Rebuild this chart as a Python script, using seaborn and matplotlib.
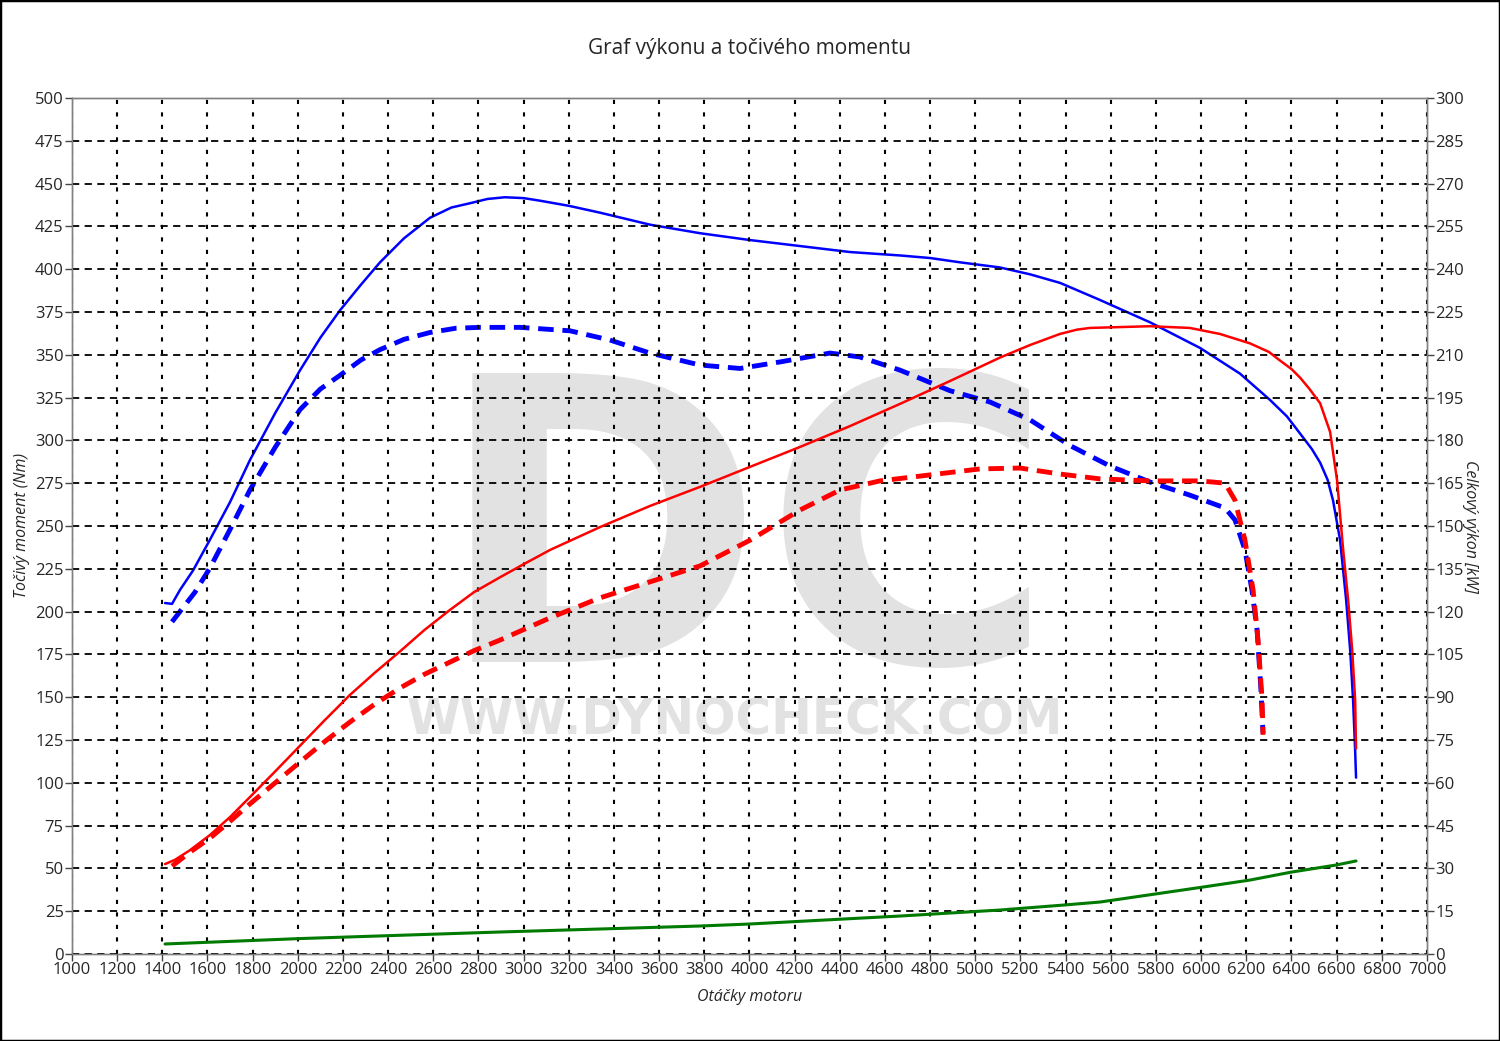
import matplotlib
matplotlib.use("Agg")
import matplotlib.pyplot as plt
import seaborn as sns
from matplotlib.patches import Rectangle

# tuned torque (Nm) - blue solid
rpm_tq_tuned = [1412, 1443, 1478, 1536, 1611, 1700, 1788, 1900, 2010, 2100, 2187, 2280, 2364,
                2470, 2585, 2680, 2762, 2840, 2917, 3000, 3072, 3200, 3338, 3559, 3781, 4002,
                4224, 4445, 4667, 4800, 4932, 5109, 5242, 5375, 5552, 5773, 5995, 6172, 6305,
                6380, 6438, 6490, 6527, 6560, 6584, 6615, 6642, 6660, 6673, 6682, 6686]
tq_tuned = [205, 204.5, 212.6, 224, 242, 264, 288.5, 316, 341, 360, 376, 391, 404,
            418, 430, 436, 438.5, 441, 442, 441.5, 440, 437, 433, 426, 421, 417,
            413.5, 410, 408, 406.5, 404, 401, 397, 392, 382, 369, 354, 339, 323.6,
            314, 304, 295, 287, 277, 265, 242, 207, 177.6, 148, 119, 103]

# stock torque (Nm) - blue dashed
rpm_tq_stock = [1443, 1478, 1545, 1611, 1700, 1788, 1900, 2010, 2100, 2187, 2280, 2364, 2470,
                2585, 2700, 2807, 2984, 3205, 3382, 3559, 3781, 3958, 4135, 4357, 4489, 4667,
                4888, 5065, 5242, 5419, 5596, 5773, 5950, 6106, 6150, 6194, 6225, 6248, 6265,
                6274]
tq_stock = [194, 200, 211.4, 225.5, 248, 271, 296, 318, 330, 338, 347, 353, 359,
            363, 365.5, 366, 366, 364, 358.6, 351, 344, 342, 345.8, 351, 348.7, 341,
            329, 322.4, 312, 297, 285, 275.7, 268, 260.5, 253.5, 236, 212.6, 189, 154,
            129]

# tuned power (kW) - red solid
rpm_pw_tuned = [1412, 1456, 1523, 1611, 1700, 1788, 1900, 2010, 2120, 2231, 2340, 2452,
                2560, 2674, 2780, 2895, 3000, 3117, 3338, 3559, 3781, 4002, 4224, 4445,
                4667, 4888, 5109, 5242, 5375, 5450, 5507, 5773, 5950, 6083, 6216, 6300,
                6349, 6400, 6438, 6480, 6527, 6571, 6602, 6629, 6651, 6669, 6682, 6686]
pw_tuned = [31.5, 33, 36.4, 41.7, 48, 55, 64, 73, 82, 90.8, 98.5, 106,
            113.5, 120.6, 126.8, 132, 136.6, 141.6, 149.6, 157, 163.7, 170.7, 177.7, 185,
            192.8, 200.8, 209, 213.4, 217.3, 218.8, 219.4, 220, 219.4, 217.3, 214, 211,
            208, 205, 202, 198, 193, 183, 166, 141.6, 124, 106.5, 89, 72]

# stock power (kW) - red dashed
rpm_pw_stock = [1443, 1523, 1611, 1700, 1788, 1900, 2010, 2120, 2231, 2340, 2452, 2560,
                2674, 2780, 2895, 3117, 3338, 3559, 3781, 4002, 4224, 4401, 4578, 4800,
                5021, 5198, 5375, 5552, 5773, 5995, 6106, 6150, 6194, 6230, 6252, 6270,
                6274]
pw_stock = [30.8, 35.7, 40.6, 46.5, 52.6, 60, 67.3, 74.5, 81.3, 87.5, 93.2, 98,
            102.3, 106.3, 110, 117.8, 124.8, 130.4, 136, 145, 155.6, 162.6, 165.8, 167.9,
            170, 170.3, 168.2, 166.5, 165.8, 165.8, 165, 159, 145, 127.6, 110, 89,
            76.8]

# loss power (kW) - green
rpm_loss = [1412, 2010, 2895, 3781, 4000, 4667, 5109, 5400, 5552, 5995, 6216, 6400, 6600, 6686]
pw_loss = [3.5, 5.4, 7.7, 9.8, 10.5, 13.3, 15.4, 17.2, 18.2, 23.3, 25.9, 28.7, 31.2, 32.6]

x_ticks = list(range(1000, 7001, 200))
tq_ticks = list(range(0, 501, 25))
pw_ticks = list(range(0, 301, 15))

sns.set_style("white")
plt.rcParams["font.family"] = ["Open Sans", "DejaVu Sans"]

fig = plt.figure(figsize=(15, 10.41), dpi=100)
ax = fig.add_axes([0.048, 0.0836, 0.9033, 0.8223])
ax2 = ax.twinx()

# watermark (behind the axes)
fig.text(0.497, 0.469, "DC", fontsize=285, fontweight="bold", color="#e2e2e2",
         ha="center", va="center", family="DejaVu Sans", zorder=-1)
fig.text(0.49, 0.308, "WWW.DYNOCHECK.COM", fontsize=35, fontweight="bold", color="#e2e2e2",
         ha="center", va="center", family="DejaVu Sans", zorder=-1)
ax.set_facecolor("none")
ax2.set_facecolor("none")
fig.patch.set_facecolor("white")

sns.lineplot(x=rpm_tq_tuned, y=tq_tuned, ax=ax, color="#0000ff", linewidth=1.8,
             estimator=None, sort=False)
sns.lineplot(x=rpm_tq_stock, y=tq_stock, ax=ax, color="#0000ff", linewidth=3.5,
             estimator=None, sort=False, linestyle=(0, (3.2, 1.8)))
sns.lineplot(x=rpm_pw_tuned, y=pw_tuned, ax=ax2, color="#ff0000", linewidth=1.8,
             estimator=None, sort=False)
sns.lineplot(x=rpm_pw_stock, y=pw_stock, ax=ax2, color="#ff0000", linewidth=3.5,
             estimator=None, sort=False, linestyle=(0, (3.2, 1.8)))
sns.lineplot(x=rpm_loss, y=pw_loss, ax=ax2, color="#007a00", linewidth=2.2,
             estimator=None, sort=False)

ax.set_xlim(1000, 7000)
ax.set_ylim(0, 500)
ax2.set_ylim(0, 300)
ax.set_xticks(x_ticks)
ax.set_yticks(tq_ticks)
ax2.set_yticks(pw_ticks)

for a in (ax, ax2):
    for s in a.spines.values():
        s.set_color("#808080")
        s.set_linewidth(1.0)

ax.grid(True, which="major", axis="y", color="black", linestyle=(0, (4, 3)), linewidth=1.3)
ax.grid(True, which="major", axis="x", color="black", linestyle=(0, (2, 4)), linewidth=1.5)
ax.set_axisbelow(False)

ax.tick_params(axis="both", direction="out", length=5, width=1, color="#444444",
               labelsize=12, pad=1, left=True, bottom=True)
ax2.tick_params(axis="y", direction="out", length=5, width=1, color="#444444",
                labelsize=12, pad=1, right=True)

ax.set_xlabel("Otáčky motoru", fontsize=11.5, fontstyle="italic")
ax.xaxis.set_label_coords(0.5, -0.041)
ax.set_ylabel("Točivý moment (Nm)", fontsize=11.5, fontstyle="italic")
ax.yaxis.set_label_coords(-0.031, 0.5)
ax2.set_ylabel("Celkový výkon [kW]", fontsize=11.5, fontstyle="italic", rotation=270,
               va="center")
ax2.yaxis.set_label_coords(1.0317, 0.5)
fig.text(0.5, 0.953, "Graf výkonu a točivého momentu", fontsize=15, ha="center",
         va="center")

fig.patches.append(Rectangle((0, 0), 1, 1, transform=fig.transFigure, fill=False,
                             edgecolor="black", linewidth=2.5, zorder=10))

fig.savefig("out.png", dpi=100)
